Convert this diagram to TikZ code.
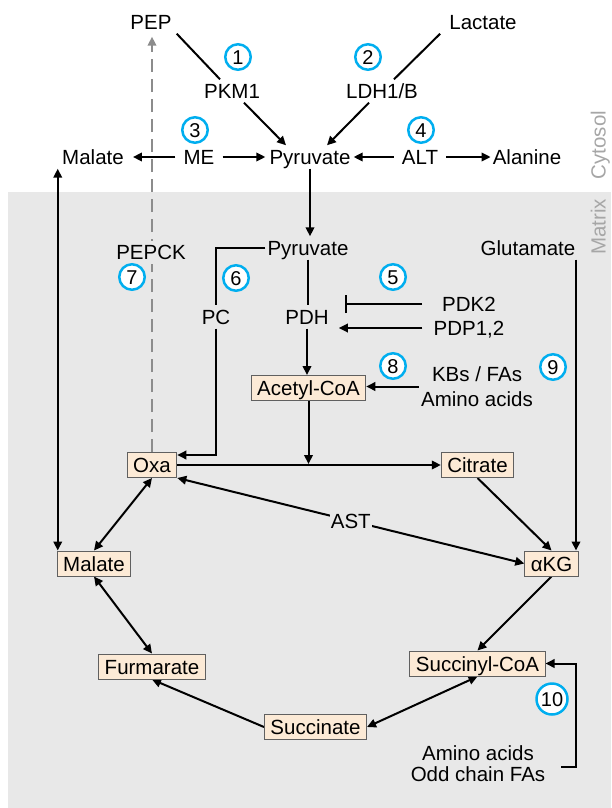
\documentclass[tikz,border=0pt]{standalone}
\usepackage{fontspec}
\setmainfont{Liberation Sans}
\usetikzlibrary{arrows.meta,calc}
\pgfdeclarelayer{bglayer}
\pgfdeclarelayer{linelayer}
\pgfsetlayers{bglayer,linelayer,main}
\definecolor{bgm}{RGB}{232,232,232}
\definecolor{boxfill}{RGB}{252,234,214}
\definecolor{boxline}{RGB}{96,96,96}
\definecolor{cyanc}{RGB}{0,174,239}
\definecolor{lblc}{RGB}{166,166,166}
\definecolor{dashc}{RGB}{140,140,140}
\begin{document}
\begin{tikzpicture}[x=1pt,y=-1pt,
  every node/.style={font=\fontsize{20.5}{24}\selectfont, text height=17pt, text depth=2pt, inner xsep=2pt, inner ysep=2pt},
  met/.style={draw=boxline, line width=1pt, fill=boxfill, inner xsep=6pt, inner ysep=3pt},
  num/.style={circle, draw=cyanc, line width=2.5pt, fill=white, minimum size=25.5pt, inner sep=0pt, text height=15pt, text depth=0pt, font=\fontsize{20}{24}\selectfont},
  twoline/.style={align=center, text height=, text depth=},
  ln/.style={line width=2pt},
  arr/.style={line width=2pt, -{Triangle[length=9pt,width=8.5pt]}},
  biarr/.style={line width=2pt, {Triangle[length=9pt,width=8.5pt]}-{Triangle[length=9pt,width=8.5pt]}},
  dasharr/.style={line width=2pt, dashc, dash pattern=on 13pt off 7pt, -{Triangle[length=9pt,width=8.5pt]}},
  inhib/.style={line width=2pt, -{Bar[width=18pt]}},
  side/.style={text=lblc, rotate=90, inner sep=0pt}
]
\useasboundingbox (0,0) rectangle (611,808);
\begin{pgfonlayer}{bglayer}
\fill[bgm] (8,192) rectangle (611,808);
\end{pgfonlayer}

% side labels
\node[side] (cyt) at (598,145) {Cytosol};
\node[side] (mat) at (598,227) {Matrix};

% cytosol
\node (PEP) at (151,22) {PEP};
\node (Lac) at (483,22) {Lactate};
\node (PKM) at (232,91) {PKM1};
\node (LDH) at (382,91) {LDH1/B};
\node (MalC) at (93,157) {Malate};
\node (ME) at (199,157) {ME};
\node (PyrC) at (310,157) {Pyruvate};
\node (ALT) at (420,157) {ALT};
\node (Ala) at (527,157) {Alanine};
\node[num] (n1) at (238,57) {1};
\node[num] (n2) at (368,57) {2};
\node[num] (n3) at (195,130) {3};
\node[num] (n4) at (421,130) {4};

% matrix
\node (PyrM) at (308,248) {Pyruvate};
\node (Glu) at (528,248) {Glutamate};
\node[fill=bgm] (PEPCK) at (151,252) {PEPCK};
\node[num] (n7) at (132,277) {7};
\node[num] (n6) at (236,278) {6};
\node[num] (n5) at (393,277) {5};
\node (PC) at (216,317) {PC};
\node (PDH) at (307,317) {PDH};
\node (PDK) at (469,304) {PDK2};
\node (PDP) at (469,328) {PDP1,2};
\node[num] (n8) at (393,366) {8};
\node[num] (n9) at (553,367) {9};
\node[met] (Ac) at (308.5,388) {Acetyl-CoA};
\node[twoline, font=\fontsize{20.5}{25}\selectfont] (KB) at (477,386.5) {KBs / FAs\\Amino acids};
\node[met] (Oxa) at (152,465) {Oxa};
\node[met] (Cit) at (477.5,465) {Citrate};
\node[met] (MalM) at (94,563.5) {Malate};
\node[met] (aKG) at (551.5,563.5) {αKG};
\node[met] (Fum) at (152,666.5) {Furmarate};
\node[met] (SCoA) at (477.5,663.5) {Succinyl-CoA};
\node[met] (Suc) at (315.5,727) {Succinate};
\node[num, minimum size=31pt] (n10) at (552,699) {10};
\node[twoline, font=\fontsize{20.5}{21.6}\selectfont] (AO) at (478,763.5) {Amino acids\\Odd chain FAs};

\begin{pgfonlayer}{linelayer}
% cytosol connectors
\draw[ln] ([xshift=3pt]PEP.south east) -- ([xshift=-12pt]PKM.north);
\draw[arr] ([xshift=12pt]PKM.south) -- ([xshift=-24pt]PyrC.north);
\draw[ln] ([xshift=-7pt]Lac.south west) -- ([xshift=12pt]LDH.north);
\draw[arr] ([xshift=-13pt]LDH.south) -- ([xshift=17pt]PyrC.north);
\draw[arr, shorten <=6pt, shorten >=7pt] (ME.west) -- (MalC.east);
\draw[arr, shorten <=6pt, shorten >=2pt] (ME.east) -- (PyrC.west);
\draw[arr, shorten <=6pt, shorten >=1pt] (ALT.west) -- (PyrC.east);
\draw[arr, shorten <=6pt] (ALT.east) -- (Ala.west);
\draw[arr] (PyrC.south) -- (PyrC.south |- PyrM.north);
\draw[dasharr, shorten >=3pt] (Oxa.north) -- (Oxa.north |- PEP.south);
\draw[biarr] ([xshift=1pt]MalM.north west) -- ([xshift=1pt]MalM.north west |- MalC.south);

% matrix connectors
\draw[ln] (PyrM.west) -| (PC.north);
\draw[arr] (PC.south) |- ([yshift=10pt]Oxa.east);
\draw[ln] (PyrM.south) -- (PyrM.south |- PDH.north);
\draw[arr] (PDH.south) -- (PDH.south |- Ac.north);
\coordinate (inh) at ([xshift=14pt]PDH.east);
\coordinate (act) at ([xshift=8pt]PDH.east);
\draw[inhib, shorten <=18pt] (PDK.west) -- (PDK.west -| inh);
\draw[arr, shorten <=9pt] (PDP.west) -- (PDP.west -| act);
\draw[arr] (KB.west) -- (KB.west -| Ac.east);
\draw[arr] (Oxa.east) -- (Cit.west);
\coordinate (join) at (Ac.south |- Oxa.east);
\draw[arr, shorten >=1pt] (Ac.south) -- (join);
\draw[arr] ([xshift=-1.5pt]Glu.south east) -- ([xshift=-1.5pt]Glu.south east |- aKG.north);
\draw[arr] (Cit.south) -- (aKG.north);
\draw[biarr] (Oxa.south east) -- node[fill=bgm, inner sep=1pt] (AST) {AST} (aKG.west);
\draw[biarr] (Oxa.south) -- (MalM.north);
\draw[biarr] (MalM.south) -- (Fum.north);
\draw[arr] (Suc.west) -- (Fum.south);
\draw[biarr] (SCoA.south) -- (Suc.east);
\draw[arr] (aKG.south) -- (SCoA.north);
\draw[arr] ([xshift=14pt,yshift=-3pt]AO.east) -- ++(15,0) |- (SCoA.east);
\end{pgfonlayer}
\end{tikzpicture}
\end{document}
